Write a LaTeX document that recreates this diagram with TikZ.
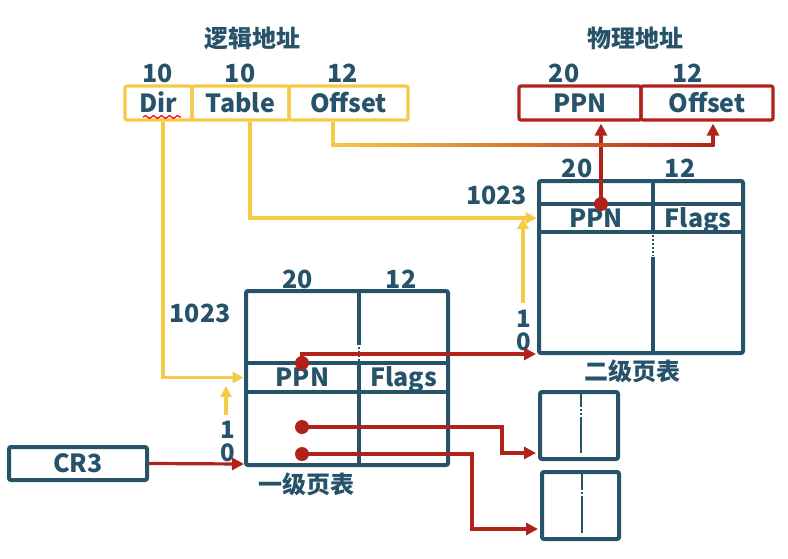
\documentclass[tikz,border=0pt]{standalone}
\usepackage{fontspec}
\setmainfont{Noto Sans CJK SC}
\usepackage{tikz}
\usetikzlibrary{arrows.meta,positioning,decorations.pathmorphing}
\definecolor{PagingTeal}{RGB}{38,83,106}
\definecolor{PagingYellow}{RGB}{245,202,70}
\definecolor{PagingOrange}{RGB}{226,130,50}
\definecolor{PagingRed}{RGB}{176,34,26}

\begin{document}
\begin{tikzpicture}[
x=0.5pt,
y=-0.5pt,
every node/.style={
font=\bfseries\fontsize{12.5}{14}\selectfont,
text=PagingTeal
},
title/.style={
font=\bfseries\fontsize{12}{14}\selectfont
},
idx/.style={
inner sep=0pt,
text height=8.6pt,
text depth=0pt,
font=\bfseries\fontsize{12}{12}\selectfont
},
lfield/.style={
draw=PagingYellow,
line width=1.6pt,
rounded corners=1pt,
minimum height=17pt,
text height=9.2pt,
text depth=0pt,
inner sep=0pt
},
pfield/.style={
draw=PagingRed,
line width=1.6pt,
rounded corners=1pt,
minimum height=17pt,
text height=9.2pt,
text depth=0pt,
inner sep=0pt
},
cell/.style={
minimum height=13pt,
text height=9.2pt,
text depth=0pt,
inner sep=0pt
},
tableframe/.style={
draw=PagingTeal,
line width=2pt,
rounded corners=1pt
},
colline/.style={
draw=PagingTeal,
line width=1.6pt
},
thinline/.style={
draw=PagingTeal,
line width=1pt
},
dotline/.style={
draw=PagingTeal,
line width=1pt,
dash pattern=on 1pt off 1pt
},
ylink/.style={
draw=PagingYellow,
line width=1.6pt,
-{Triangle[length=5.5pt,width=5.5pt]}
},
rlink/.style={
draw=PagingRed,
line width=1.6pt,
-{Triangle[length=6pt,width=6pt]}
},
ptrdot/.style={
circle,
fill=PagingRed,
minimum size=7pt,
inner sep=0pt
}
]
\useasboundingbox (0,0) rectangle (788,558);

% logical address
\node[title] (lhead) at (252.5,38) {逻辑地址};
\node (lbits1) at (157.5,73) {10};
\node (lbits2) at (240,73) {10};
\node (lbits3) at (342.5,73) {12};
\node[lfield, minimum width=33.5pt] (dir) at (158.5,103) {Dir};
\node[lfield, minimum width=48.5pt] (tbl) at (240.5,103) {Table};
\node[lfield, minimum width=59.5pt] (loff) at (348.5,103) {Offset};
\draw[red, line width=0.6pt, decorate, decoration={snake, amplitude=0.7pt, segment length=4pt}] (143,117) -- (181,117);

% physical address
\node[title] (phead) at (635.5,38) {物理地址};
\node (pbits1) at (564,73) {20};
\node (pbits2) at (687.5,73) {12};
\node[pfield, minimum width=61pt] (ppn) at (580,103) {PPN};
\node[pfield, minimum width=66pt] (poff) at (707,103) {Offset};

% second level table
\draw[tableframe] (539,181) rectangle (743,353);
\draw[tableframe] (539,204) -- (743,204) (539,232) -- (743,232);
\draw[colline] (653,181) -- (653,232) (653,257) -- (653,353);
\draw[dotline] (653,235) -- (653,256);
\node[cell, minimum width=57pt] (t2ppn) at (596,218) {PPN};
\node[cell, minimum width=45pt] (t2flags) at (698,218) {Flags};
\node (t2bits1) at (577,168) {20};
\node (t2bits2) at (680,168) {12};
\node (t2top) at (496.5,195) {1023};
\node[idx] (t2one) at (524,319) {1};
\node[idx] (t2zero) at (524,342) {0};
\node[title] (t2name) at (632.5,371) {二级页表};

% first level table
\draw[tableframe] (246,291) rectangle (448,465);
\draw[tableframe] (246,363) -- (448,363) (246,392) -- (448,392);
\draw[colline] (359,291) -- (359,345) (359,363) -- (359,465);
\draw[dotline] (359,347) -- (359,362);
\node[cell, minimum width=56.5pt] (t1ppn) at (302.5,377.5) {PPN};
\node[cell, minimum width=44.5pt] (t1flags) at (403.5,377.5) {Flags};
\node (t1bits1) at (297.5,279) {20};
\node (t1bits2) at (401,279) {12};
\node (t1top) at (200,313) {1023};
\node[idx] (t1one) at (228,430) {1};
\node[idx] (t1zero) at (228,453) {0};
\node[title] (t1name) at (306,484) {一级页表};

% page frames
\node[tableframe, minimum width=39pt, minimum height=33.5pt, inner sep=0pt] (pg1) at (579,425.5) {};
\node[tableframe, minimum width=38.5pt, minimum height=33.5pt, inner sep=0pt] (pg2) at (580.5,505.5) {};
\draw[thinline] (581,392) -- (581,405) (581,417) -- (581,453);
\draw[dotline] (581,405) -- (581,417);
\draw[thinline] (582,472) -- (582,488) (582,496) -- (582,533);
\draw[dotline] (582,488) -- (582,496);

% cr3
\node[tableframe, minimum width=69pt, minimum height=16.5pt, inner sep=0pt, text height=9.2pt, text depth=0pt] (cr3) at (78,463.5) {CR3};

% pointers
\node[ptrdot] (t1d0) at (302,363) {};
\node[ptrdot] (t1d1) at (302,427) {};
\node[ptrdot] (t1d2) at (302,454) {};
\node[ptrdot] (t2d0) at (601,204) {};
\coordinate (t1base) at (244,464);
\coordinate (t2base) at (536,354);
\draw[rlink] (cr3.east) -- (t1base);
\draw[rlink] (t1d0.center) |- (t2base);
\draw[rlink, shorten >=1pt] (t1d1.center) -- ++(200,0) |- ([yshift=4pt]pg1.south west);
\draw[rlink, shorten >=1pt] (t1d2.center) -- ++(170,0) |- ([yshift=6pt]pg2.south west);
\draw[rlink, shorten >=1pt] (t2d0.center) -- (ppn.south -| t2d0);

% index lines
\draw[ylink, shorten >=1pt] ([xshift=2.25pt]dir.south) |- (t1ppn.west);
\draw[ylink, shorten >=1pt] ([xshift=4.75pt]tbl.south) |- (t2ppn.west);
\coordinate (t1from) at (226,415);
\coordinate (t1to) at (226,386);
\draw[ylink] (t1from) -- (t1to);
\coordinate (t2from) at (523,303);
\coordinate (t2to) at (523,218);
\draw[ylink] (t2from) -- (t2to);

% offset
\coordinate (offbend) at (333,145);
\coordinate (offturn) at (713,145);
\draw[draw=PagingYellow, line width=1.6pt] ([xshift=-7.75pt]loff.south) -- (offbend);
\shade[left color=PagingYellow, middle color=PagingOrange, right color=PagingRed] ([shift={(-0.8pt,0.8pt)}]offbend) rectangle ([shift={(0.8pt,-0.8pt)}]offturn);
\draw[rlink, shorten >=1pt] (offturn) -- (poff.south -| offturn);
\end{tikzpicture}
\end{document}
